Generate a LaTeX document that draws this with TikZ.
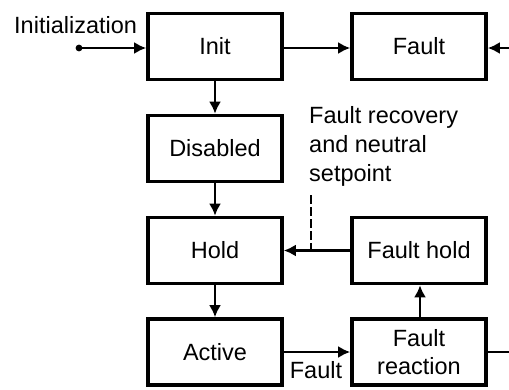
\documentclass[tikz,border=0pt]{standalone}
\usepackage{fontspec}
\setmainfont{Liberation Sans}
\usetikzlibrary{arrows.meta}
\begin{document}
\begin{tikzpicture}[x=1pt,y=-1pt,
  statebox/.style={draw=black,line width=3.6pt,minimum width=134pt,minimum height=66pt,
    inner sep=0pt,align=center,font=\fontsize{23.5}{28}\selectfont},
  conn/.style={line width=2.8pt,-{Latex[length=12pt,width=12pt]}},
  plain/.style={line width=2.8pt},
  lbl/.style={inner sep=0pt,font=\fontsize{23.5}{29}\selectfont}]
  \useasboundingbox (0,0) rectangle (509,389);

  % states
  \node[statebox] (init)    at (215,46.5)  {Init};
  \node[statebox] (fault)   at (419,46.5)  {Fault};
  \node[statebox] (dis)     at (215,148.5) {Disabled};
  \node[statebox] (hold)    at (215,250.5) {Hold};
  \node[statebox] (fhold)   at (419,250.5) {Fault hold};
  \node[statebox] (active)  at (215,352)   {Active};
  \node[statebox] (freact)  at (419,352)   {Fault\\reaction};

  % free ends
  \coordinate (start)   at (79,48);
  \coordinate (faultin) at (509,48);
  \coordinate (reactout) at (509,352);
  \coordinate (dashtop) at (311,195);
  \coordinate (dashbot) at (311,250.5);

  % labels
  \node[lbl,anchor=base west] (initlbl) at (14,33) {Initialization};
  \node[lbl,anchor=base] (faultlbl) at (316,378) {Fault};
  \node[lbl,anchor=north west,align=left] (reclbl) at (309,106)
    {Fault recovery\\and neutral\\setpoint};

  % connectors
  \fill (start) circle (3.4pt);
  \draw[conn] (start) -- (start -| init.west);
  \draw[conn] (init.east |- start) -- (fault.west |- start);
  \draw[conn] (faultin) -- (fault.east |- faultin);
  \draw[conn] (init) -- (dis);
  \draw[conn] (dis) -- (hold);
  \draw[conn] (hold) -- (active);
  \draw[conn] (fhold) -- (hold);
  \draw[conn] (active) -- (freact);
  \draw[conn] (freact.north -| 420,0) -- (fhold.south -| 420,0);
  \draw[plain] (freact) -- (reactout);
  \draw[line width=2pt,dash pattern=on 9pt off 3pt] (dashtop) -- (dashbot);
\end{tikzpicture}
\end{document}
